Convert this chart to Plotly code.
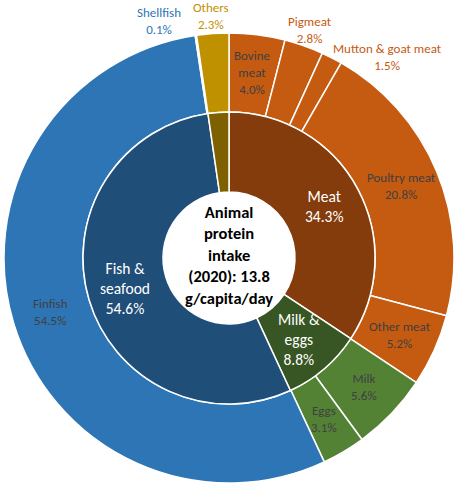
import math
import plotly.graph_objects as go

# Animal protein intake by source (2020), share of 13.8 g/capita/day
group_labels = ["Meat", "Milk &<br>eggs", "Fish &<br>seafood", "Others"]
group_values = [34.3, 8.8, 54.6, 2.3]
group_colors = ["#843C0C", "#375623", "#1F4E79", "#7F6000"]

item_labels = ["Bovine<br>meat", "Pigmeat", "Mutton & goat meat", "Poultry meat",
               "Other meat", "Milk", "Eggs", "Finfish", "Shellfish", "Others"]
item_values = [4.0, 2.8, 1.5, 20.8, 5.2, 5.6, 3.1, 54.5, 0.1, 2.3]
item_colors = ["#C55A11", "#C55A11", "#C55A11", "#C55A11", "#C55A11",
               "#548235", "#548235", "#2E75B6", "#2E75B6", "#BF9000"]

center_text = "Animal<br>protein<br>intake<br>(2020): 13.8<br>g/capita/day"

W, H = 456, 485
CX, CY = 229, 258           # pie centre in pixels (from top-left)
R_OUT, R_MID, R_HOLE = 225, 146, 66
FONT = "Carlito, Calibri, Lato, sans-serif"


def px_domain(r):
    return dict(x=[(CX - r) / W, (CX + r) / W],
                y=[1 - (CY + r) / H, 1 - (CY - r) / H])


def mid_angles(values):
    total = sum(values)
    out, acc = [], 0.0
    for v in values:
        out.append((acc + v / 2) / total * 360.0)
        acc += v
    return out


def polar_to_paper(angle_deg, r):
    a = math.radians(angle_deg)
    x = CX + r * math.sin(a)
    y = CY - r * math.cos(a)
    return x / W, 1 - y / H


def label(x, y, text, size, color, dx=0, dy=0, bold=False):
    if bold:
        text = f"<b>{text}</b>"
    return dict(x=x, y=y, xref="paper", yref="paper", xanchor="center",
                yanchor="middle", xshift=dx, yshift=dy, text=text,
                showarrow=False, font=dict(family=FONT, size=size, color=color))


fig = go.Figure()

fig.add_trace(go.Pie(
    labels=item_labels, values=item_values, sort=False, direction="clockwise",
    rotation=0, hole=R_MID / R_OUT, domain=px_domain(R_OUT),
    marker=dict(colors=item_colors, line=dict(color="white", width=1.5)),
    textinfo="none", hoverinfo="none", showlegend=False,
))
fig.add_trace(go.Pie(
    labels=group_labels, values=group_values, sort=False, direction="clockwise",
    rotation=0, hole=R_HOLE / R_MID, domain=px_domain(R_MID),
    marker=dict(colors=group_colors, line=dict(color="white", width=1.5)),
    textinfo="none", hoverinfo="none", showlegend=False,
))

annotations = []

# inner ring labels (white)
for lab, val, ang in zip(group_labels, group_values, mid_angles(group_values)):
    if lab == "Others":
        continue
    x, y = polar_to_paper(ang, 108)
    annotations.append(label(x, y, f"{lab}<br>{val:.1f}%", 15.5, "white"))

# outer ring labels: inside slices in grey, small slices outside in series colour
outside = {"Pigmeat": (242, 0, 0), "Mutton & goat meat": (240, 49, -12),
           "Shellfish": (240, -35, 0), "Others": (243, 0, 0)}
for lab, val, ang, col in zip(item_labels, item_values, mid_angles(item_values), item_colors):
    if lab in outside:
        r, dx, dy = outside[lab]
        color = col
    else:
        r, dx, dy = 187, 0, 0
        color = "#404040"
    x, y = polar_to_paper(ang, r)
    annotations.append(label(x, y, f"{lab}<br>{val:.1f}%", 13, color, dx, dy))

annotations.append(label(CX / W, 1 - (CY - 3) / H, center_text, 16.5, "black", bold=True))

fig.update_layout(
    width=W, height=H, margin=dict(l=0, r=0, t=0, b=0),
    paper_bgcolor="white", plot_bgcolor="white",
    annotations=annotations,
)

fig.write_html("out.html")
